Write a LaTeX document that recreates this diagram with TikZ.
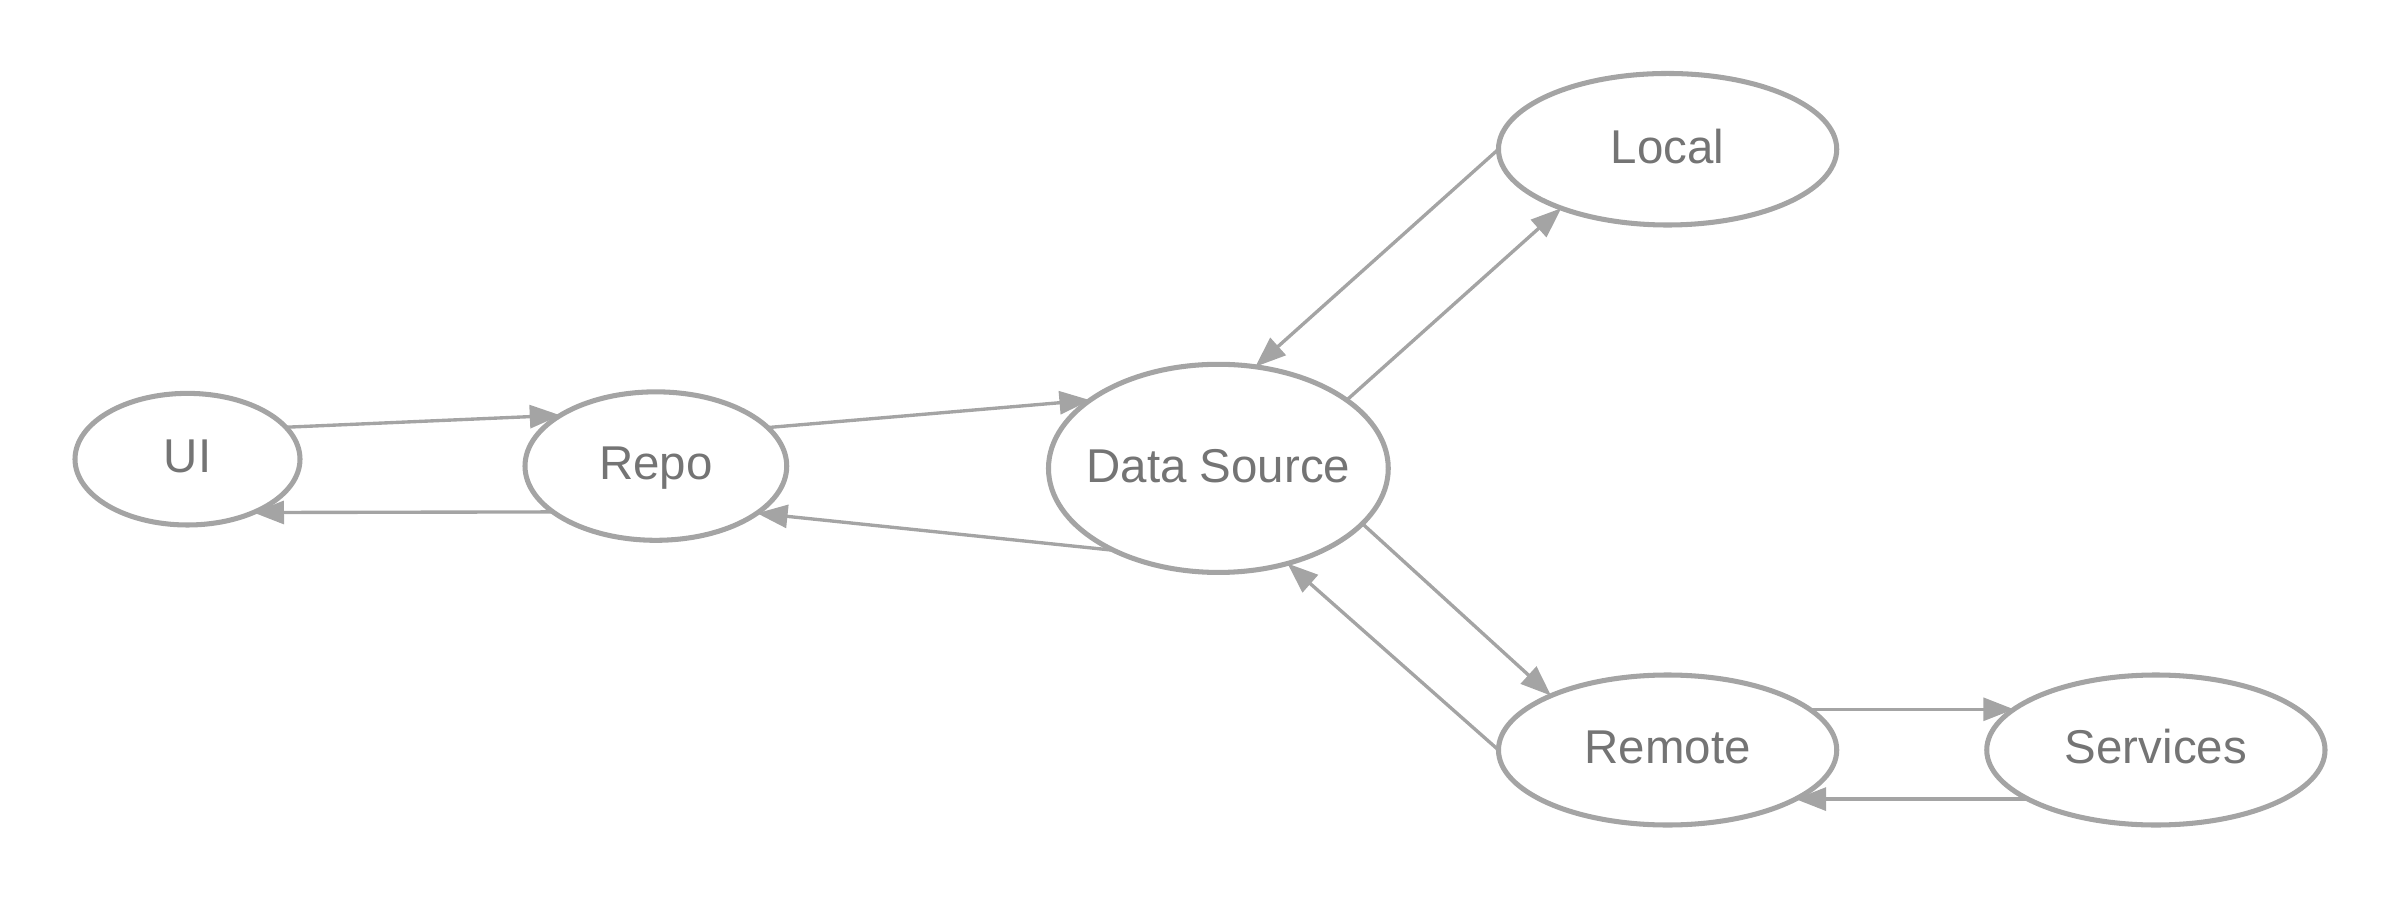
\documentclass[tikz,border=0pt]{standalone}
\usepackage{fontspec}
\setmainfont{Liberation Sans}
\usetikzlibrary{shapes.geometric,arrows.meta}
\definecolor{edgegray}{HTML}{A4A4A4}
\definecolor{textgray}{HTML}{747474}
\tikzset{
  bubble/.style={ellipse, draw=edgegray, line width=3.3pt, fill=white, inner sep=0pt, outer sep=0pt,
    text=textgray, font=\fontsize{31}{36}\selectfont, text height=18pt, text depth=0pt},
  link/.style={draw=edgegray, line width=2.2pt, -{Triangle[length=20pt,width=15pt]}}
}
\newcommand{\bubtext}[1]{\makebox[0pt]{#1}}
\begin{document}
\begin{tikzpicture}[x=1pt,y=-1pt]
\useasboundingbox (0,0) rectangle (1568,588);
\node[bubble, minimum width=147pt, minimum height=86pt] (ui) at (122.5,300) {\bubtext{UI}};
\node[bubble, minimum width=171pt, minimum height=97pt] (repo) at (428.5,304.5) {\bubtext{Repo}};
\node[bubble, minimum width=222pt, minimum height=136pt] (ds) at (796,306) {\bubtext{Data Source}};
\node[bubble, minimum width=221pt, minimum height=99pt] (local) at (1089.5,97.5) {\bubtext{Local}};
\node[bubble, minimum width=221pt, minimum height=98pt] (remote) at (1089.5,490) {\bubtext{Remote}};
\node[bubble, minimum width=221pt, minimum height=98pt] (services) at (1408.5,490) {\bubtext{Services}};

\draw[link] (ui.18.8) -- (repo.152.6);
\draw[link] (repo.204.7) -- (ui.-39);
\draw[link] (repo.19.6) -- (ds.152.4);
\draw[link] (ds.218) -- (repo.-25.1);
\draw[link] (ds.28.2) -- (local.209.1);
\draw[link] (local.180) -- (ds.70.8);
\draw[link] (ds.-21.5) -- (remote.155);
\draw[link] (remote.180) -- (ds.-54.7);
\draw[link] (remote.16.1) -- (services.164.7);
\draw[link] (services.201.8) -- (remote.-21.8);
\end{tikzpicture}
\end{document}
